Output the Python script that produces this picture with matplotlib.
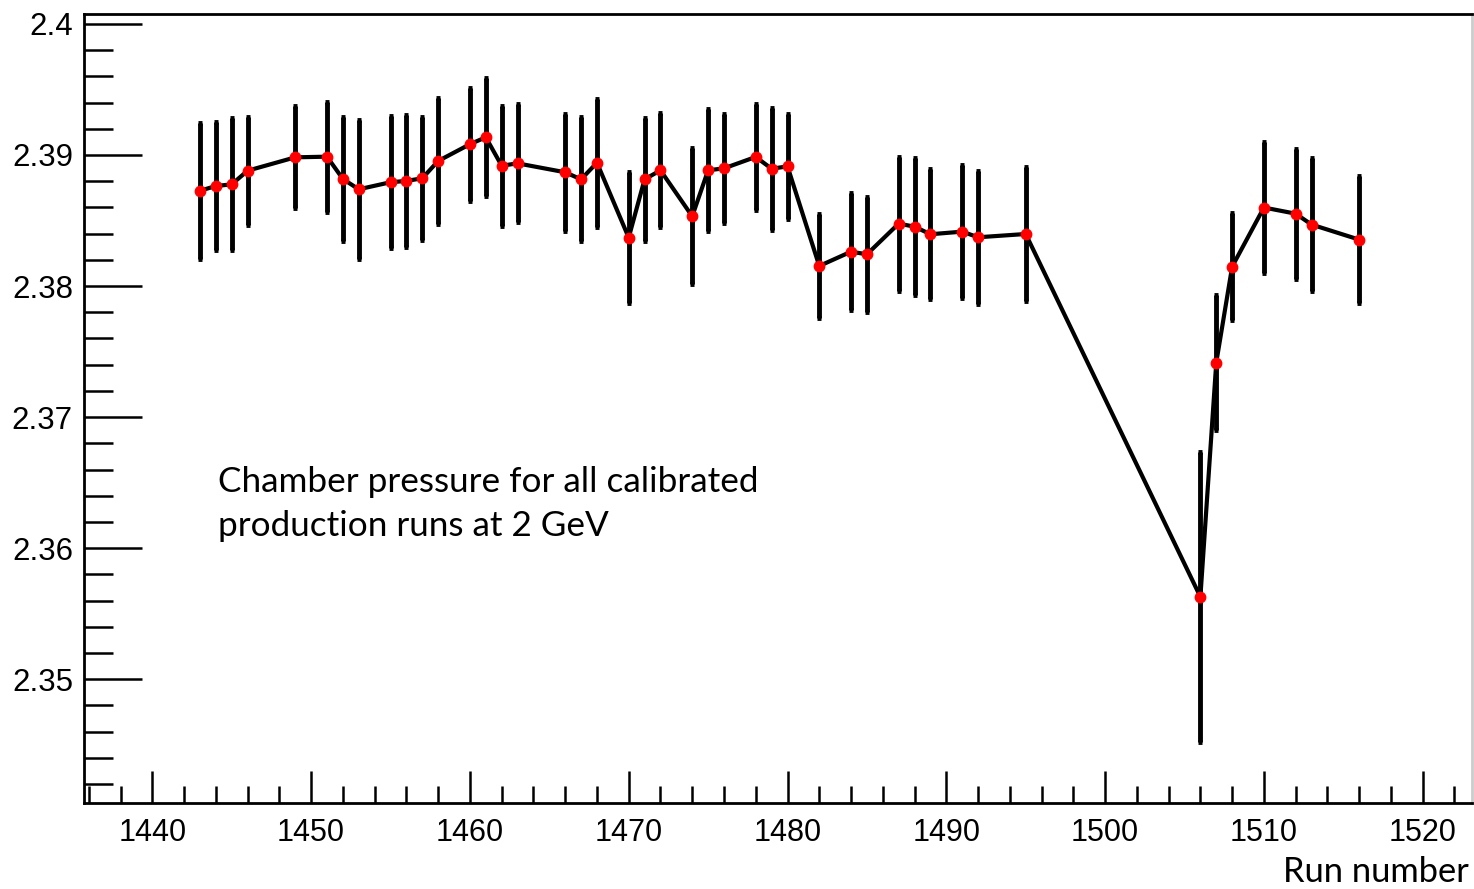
import numpy as np
import matplotlib
matplotlib.use("Agg")
import matplotlib.pyplot as plt
from matplotlib.ticker import MultipleLocator

# run numbers and chamber pressure
runs = [1443, 1444, 1445, 1446, 1449, 1451, 1452, 1453, 1455, 1456, 1457, 1458,
        1460, 1461, 1462, 1463, 1466, 1467, 1468, 1470, 1471, 1472, 1474, 1475,
        1476, 1478, 1479, 1480, 1482, 1484, 1485, 1487, 1488, 1489, 1491, 1492,
        1495, 1506, 1507, 1508, 1510, 1512, 1513, 1516]
pressure = [2.38727, 2.38763, 2.38776, 2.38880, 2.38982, 2.38987, 2.38817, 2.38738,
            2.38792, 2.38802, 2.38822, 2.38954, 2.39082, 2.39135, 2.38918, 2.38936,
            2.38868, 2.38814, 2.38941, 2.38369, 2.38814, 2.38883, 2.38532, 2.38883,
            2.38898, 2.38985, 2.38895, 2.38913, 2.38153, 2.38262, 2.38242, 2.38476,
            2.38453, 2.38395, 2.38415, 2.38372, 2.38397, 2.35628, 2.37416, 2.38148,
            2.38599, 2.38552, 2.38469, 2.38354]
pressure_err = [0.00518, 0.00488, 0.00503, 0.00412, 0.00389, 0.00419, 0.00476, 0.00530,
                0.00503, 0.00503, 0.00470, 0.00480, 0.00432, 0.00450, 0.00457, 0.00450,
                0.00446, 0.00473, 0.00488, 0.00498, 0.00469, 0.00434, 0.00518, 0.00465,
                0.00417, 0.00404, 0.00465, 0.00402, 0.00400, 0.00447, 0.00438, 0.00511,
                0.00521, 0.00495, 0.00505, 0.00508, 0.00508, 0.01105, 0.00516, 0.00409,
                0.00503, 0.00495, 0.00507, 0.00482]

fig = plt.figure(figsize=(14.74, 8.89), dpi=100)
ax = fig.add_axes([0.057, 0.0967, 0.9416, 0.8876])

ax.errorbar(runs, pressure, yerr=pressure_err, fmt='none', ecolor='black',
            elinewidth=3.5, capsize=1.5, capthick=3.5, zorder=2)
ax.plot(runs, pressure, color='black', lw=3, zorder=3)
ax.plot(runs, pressure, 'o', color='red', ms=7.5, mec='red', zorder=4)

ax.set_xlim(1435.7, 1523.1)
ax.set_ylim(2.34055, 2.40076)

ax.xaxis.set_major_locator(MultipleLocator(10))
ax.xaxis.set_minor_locator(MultipleLocator(2))
ax.yaxis.set_major_locator(MultipleLocator(0.01))
ax.yaxis.set_minor_locator(MultipleLocator(0.002))
ax.yaxis.set_major_formatter(plt.FuncFormatter(lambda v, p: ('%.3f' % v).rstrip('0')))

ax.tick_params(axis='x', which='major', direction='in', length=23, width=1.8,
               top=False, labelsize=22, pad=11)
ax.tick_params(axis='x', which='minor', direction='in', length=12, width=1.8, top=False)
ax.tick_params(axis='y', which='major', direction='in', length=42, width=1.8,
               right=False, labelsize=22.5, pad=8)
ax.tick_params(axis='y', which='minor', direction='in', length=21, width=1.8, right=False)
for lab in ax.get_xticklabels() + ax.get_yticklabels():
    lab.set_family('Liberation Sans')

for s in ax.spines.values():
    s.set_linewidth(2)
ax.spines['right'].set_color('#cccccc')

ax.text(0.0965, 0.394, 'Chamber pressure for all calibrated', transform=ax.transAxes,
        fontsize=25.3, family='Lato', va='baseline', ha='left')
ax.text(0.0965, 0.338, 'production runs at 2 GeV', transform=ax.transAxes,
        fontsize=25.3, family='Lato', va='baseline', ha='left')

fig.text(0.9963, 0.008, 'Run number', fontsize=24.8, family='Lato', ha='right', va='baseline')

fig.savefig('out.png', dpi=100)
